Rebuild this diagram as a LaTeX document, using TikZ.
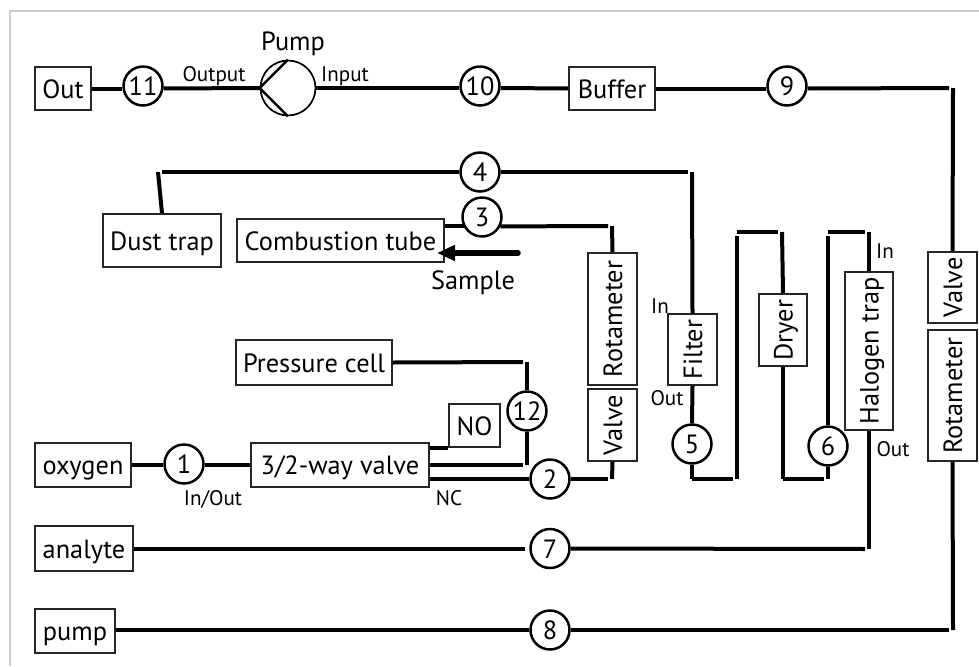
\documentclass[tikz,border=0pt]{standalone}
\usepackage{fontspec}
\setmainfont{PT Sans}
\usetikzlibrary{arrows.meta}
\tikzset{
	frameline/.style={draw=black!20,line width=0.06cm},
	pipe/.style={line width=0.08cm},
	bent/.style={pipe,shorten >=0.08cm},
	word/.style={inner sep=0pt,text height=0.38cm,text depth=0pt,font=\fontsize{15}{15}\selectfont},
	box/.style={word,draw=black!85,line width=0.035cm,fill=white},
	station/.style={word,draw,circle,line width=0.05cm,minimum size=0.78cm},
	tag/.style={inner sep=0pt,text height=0.32cm,text depth=0pt,font=\fontsize{12}{12}\selectfont},
}
\begin{document}
\begin{tikzpicture}[x=0.02cm,y=-0.02cm]
	\useasboundingbox (0,0) rectangle (979,666);
	\draw[frameline] (979,11)--(10,11)--(10,666); %frame

	%boxes
	\node[box,minimum width=1.12cm,minimum height=0.86cm] (out) at (63,88.5) {Out};
	\node[box,minimum width=1.72cm,minimum height=0.86cm] (buffer) at (612,88.5) {Buffer};
	\node[box,minimum width=2.36cm,minimum height=1.06cm] (dust) at (162,240.5) {Dust trap};
	\node[box,minimum width=4.14cm,minimum height=0.86cm] (tube) at (340.5,240.5) {Combustion tube};
	\node[box,minimum width=3.12cm,minimum height=0.9cm] (cell) at (314,362.5) {Pressure cell};
	\node[box,minimum width=1.02cm,minimum height=0.86cm] (no) at (474.5,425.5) {NO};
	\node[box,minimum width=1.92cm,minimum height=0.88cm] (oxygen) at (83,465) {oxygen};
	\node[box,minimum width=3.56cm,minimum height=0.88cm] (valve3) at (340,465) {3/2-way valve};
	\node[box,minimum width=1.96cm,minimum height=0.9cm] (analyte) at (84,548.5) {analyte};
	\node[box,minimum width=1.6cm,minimum height=0.88cm] (pumpbox) at (75,631) {pump};

	%upright boxes
	\node[box,rotate=90,minimum width=2.64cm,minimum height=0.98cm] (rotaL) at (612.5,319) {Rotameter};
	\node[box,rotate=90,minimum width=1.44cm,minimum height=0.98cm] (valveL) at (612.5,425) {Valve};
	\node[box,rotate=90,minimum width=1.42cm,minimum height=0.98cm] (filter) at (692.5,349.5) {Filter};
	\node[box,rotate=90,minimum width=1.44cm,minimum height=0.96cm] (dryer) at (783,330) {Dryer};
	\node[box,rotate=90,minimum width=3.16cm,minimum height=0.96cm] (halogen) at (869,351) {Halogen trap};
	\node[box,rotate=90,minimum width=1.42cm,minimum height=0.98cm] (valveR) at (952.5,287.5) {Valve};
	\node[box,rotate=90,minimum width=2.62cm,minimum height=0.98cm] (rotaR) at (952.5,395.5) {Rotameter};

	%numbered points
	\node[station] (n1) at (184,464) {1};
	\node[station] (n2) at (550,479) {2};
	\node[station] (n3) at (482,217) {3};
	\node[station] (n4) at (480,172) {4};
	\node[station] (n5) at (692,444) {5};
	\node[station] (n6) at (828,446) {6};
	\node[station] (n7) at (550,548.5) {7};
	\node[station] (n8) at (550,630) {8};
	\node[station] (n9) at (787,86) {9};
	\node[station] (n10) at (480,86) {10};
	\node[station] (n11) at (143,86) {11};
	\node[station] (n12) at (527,411) {12};

	%pump
	\node[draw,circle,line width=0.035cm,minimum size=1.1cm,inner sep=0pt] (pump) at (288,88) {};
	\draw[line width=0.05cm] (pump.north)--(pump.west)--(pump.south);

	%bends
	\coordinate (b9) at (953,88);
	\coordinate (b8) at (953,630);
	\coordinate (b7) at (869,549);
	\coordinate (b4) at (692,172);
	\coordinate (bd) at (158,172);
	\coordinate (b3) at (612,226);
	\coordinate (b2) at (612,479);
	\coordinate (b12a) at (527,362);
	\coordinate (b12b) at (527,465);
	\coordinate (b5) at (692,479);
	\coordinate (b5a) at (737,479);
	\coordinate (b5b) at (737,232);
	\coordinate (b5c) at (782,232);
	\coordinate (b6) at (783,479);
	\coordinate (b6a) at (828,479);
	\coordinate (b6b) at (828,232);
	\coordinate (b6c) at (869,232);

	%top line
	\draw[pipe] (out.east)--(n11.west |- out);
	\draw[pipe] (n11.east |- out)--(pump.west);
	\draw[pipe] (pump.east)--(n10.west |- pump);
	\draw[pipe] (n10.east |- pump)--(buffer.west);
	\draw[pipe] (buffer.east)--(n9.west |- buffer);
	\draw[bent] (n9.east |- buffer)--(b9);
	\draw[pipe] (b9)--(valveR.east);
	\draw[pipe] (rotaR.west)--(b8);
	\draw[pipe] (pumpbox.east |- n8)--(n8.west);
	\draw[bent] (n8.east)--(b8);

	%dust trap, tube
	\draw[pipe] (dust.north)--(bd);
	\draw[pipe,shorten <=0.08cm] (bd)--(n4.west);
	\draw[bent] (n4.east)--(b4);
	\draw[pipe] (b4)--(filter.east);
	\draw[pipe] (tube.east |- n3.-153)--(n3.-153);
	\draw[bent] (n3.-27)--(b3);
	\draw[pipe] (b3)--(rotaL.east);
	\draw[pipe] (valveL.west)--(b2);

	%valve block
	\draw[pipe] (oxygen.east)--(n1.west |- oxygen);
	\draw[pipe] (n1.east |- oxygen)--(valve3.west);
	\draw[pipe] (valve3.east |- 0,448)--(no.west |- 0,448);
	\draw[bent] (valve3.east)--(b12b);
	\draw[pipe] (b12b)--(n12.south);
	\draw[pipe] (n12.north)--(b12a);
	\draw[bent] (cell.east)--(b12a);
	\draw[pipe] (valve3.east |- n2)--(n2.west);
	\draw[bent] (n2.east)--(b2);

	%filter, dryer, halogen trap
	\draw[pipe] (filter.west)--(n5.north);
	\draw[pipe] (n5.south)--(b5);
	\draw[bent] (b5)--(b5a);
	\draw[bent] (b5a)--(b5b);
	\draw[bent] (b5b)--(b5c);
	\draw[pipe] (b5c)--(dryer.east);
	\draw[pipe] (dryer.west)--(b6);
	\draw[bent] (b6)--(b6a);
	\draw[pipe] (n6.south)--(b6a);
	\draw[bent] (n6.north)--(b6b);
	\draw[bent] (b6b)--(b6c);
	\draw[pipe] (b6c)--(halogen.east);
	\draw[pipe] (halogen.west)--(b7);
	\draw[bent] (analyte.east)--(n7.west);
	\draw[bent] (n7.east)--(b7);

	%sample
	\coordinate (sampleend) at (518,253);
	\draw[line width=0.11cm,line cap=round,-{Triangle[length=0.36cm,width=0.3cm]}] (sampleend)--(437,253);
	\node[word] (sample) at (473,280) {Sample};

	%labels
	\node[word] (pumplabel) at (293,41) {Pump};
	\node[tag] (output) at (214,74) {Output};
	\node[tag] (input) at (345,74) {Input};
	\node[tag] (inout) at (213,497) {In/Out};
	\node[tag] (nc) at (449,497) {NC};
	\node[tag] (inF) at (660,305) {In};
	\node[tag] (outF) at (667,397) {Out};
	\node[tag] (inH) at (885,250) {In};
	\node[tag] (outH) at (893,448) {Out};
\end{tikzpicture}
\end{document}
